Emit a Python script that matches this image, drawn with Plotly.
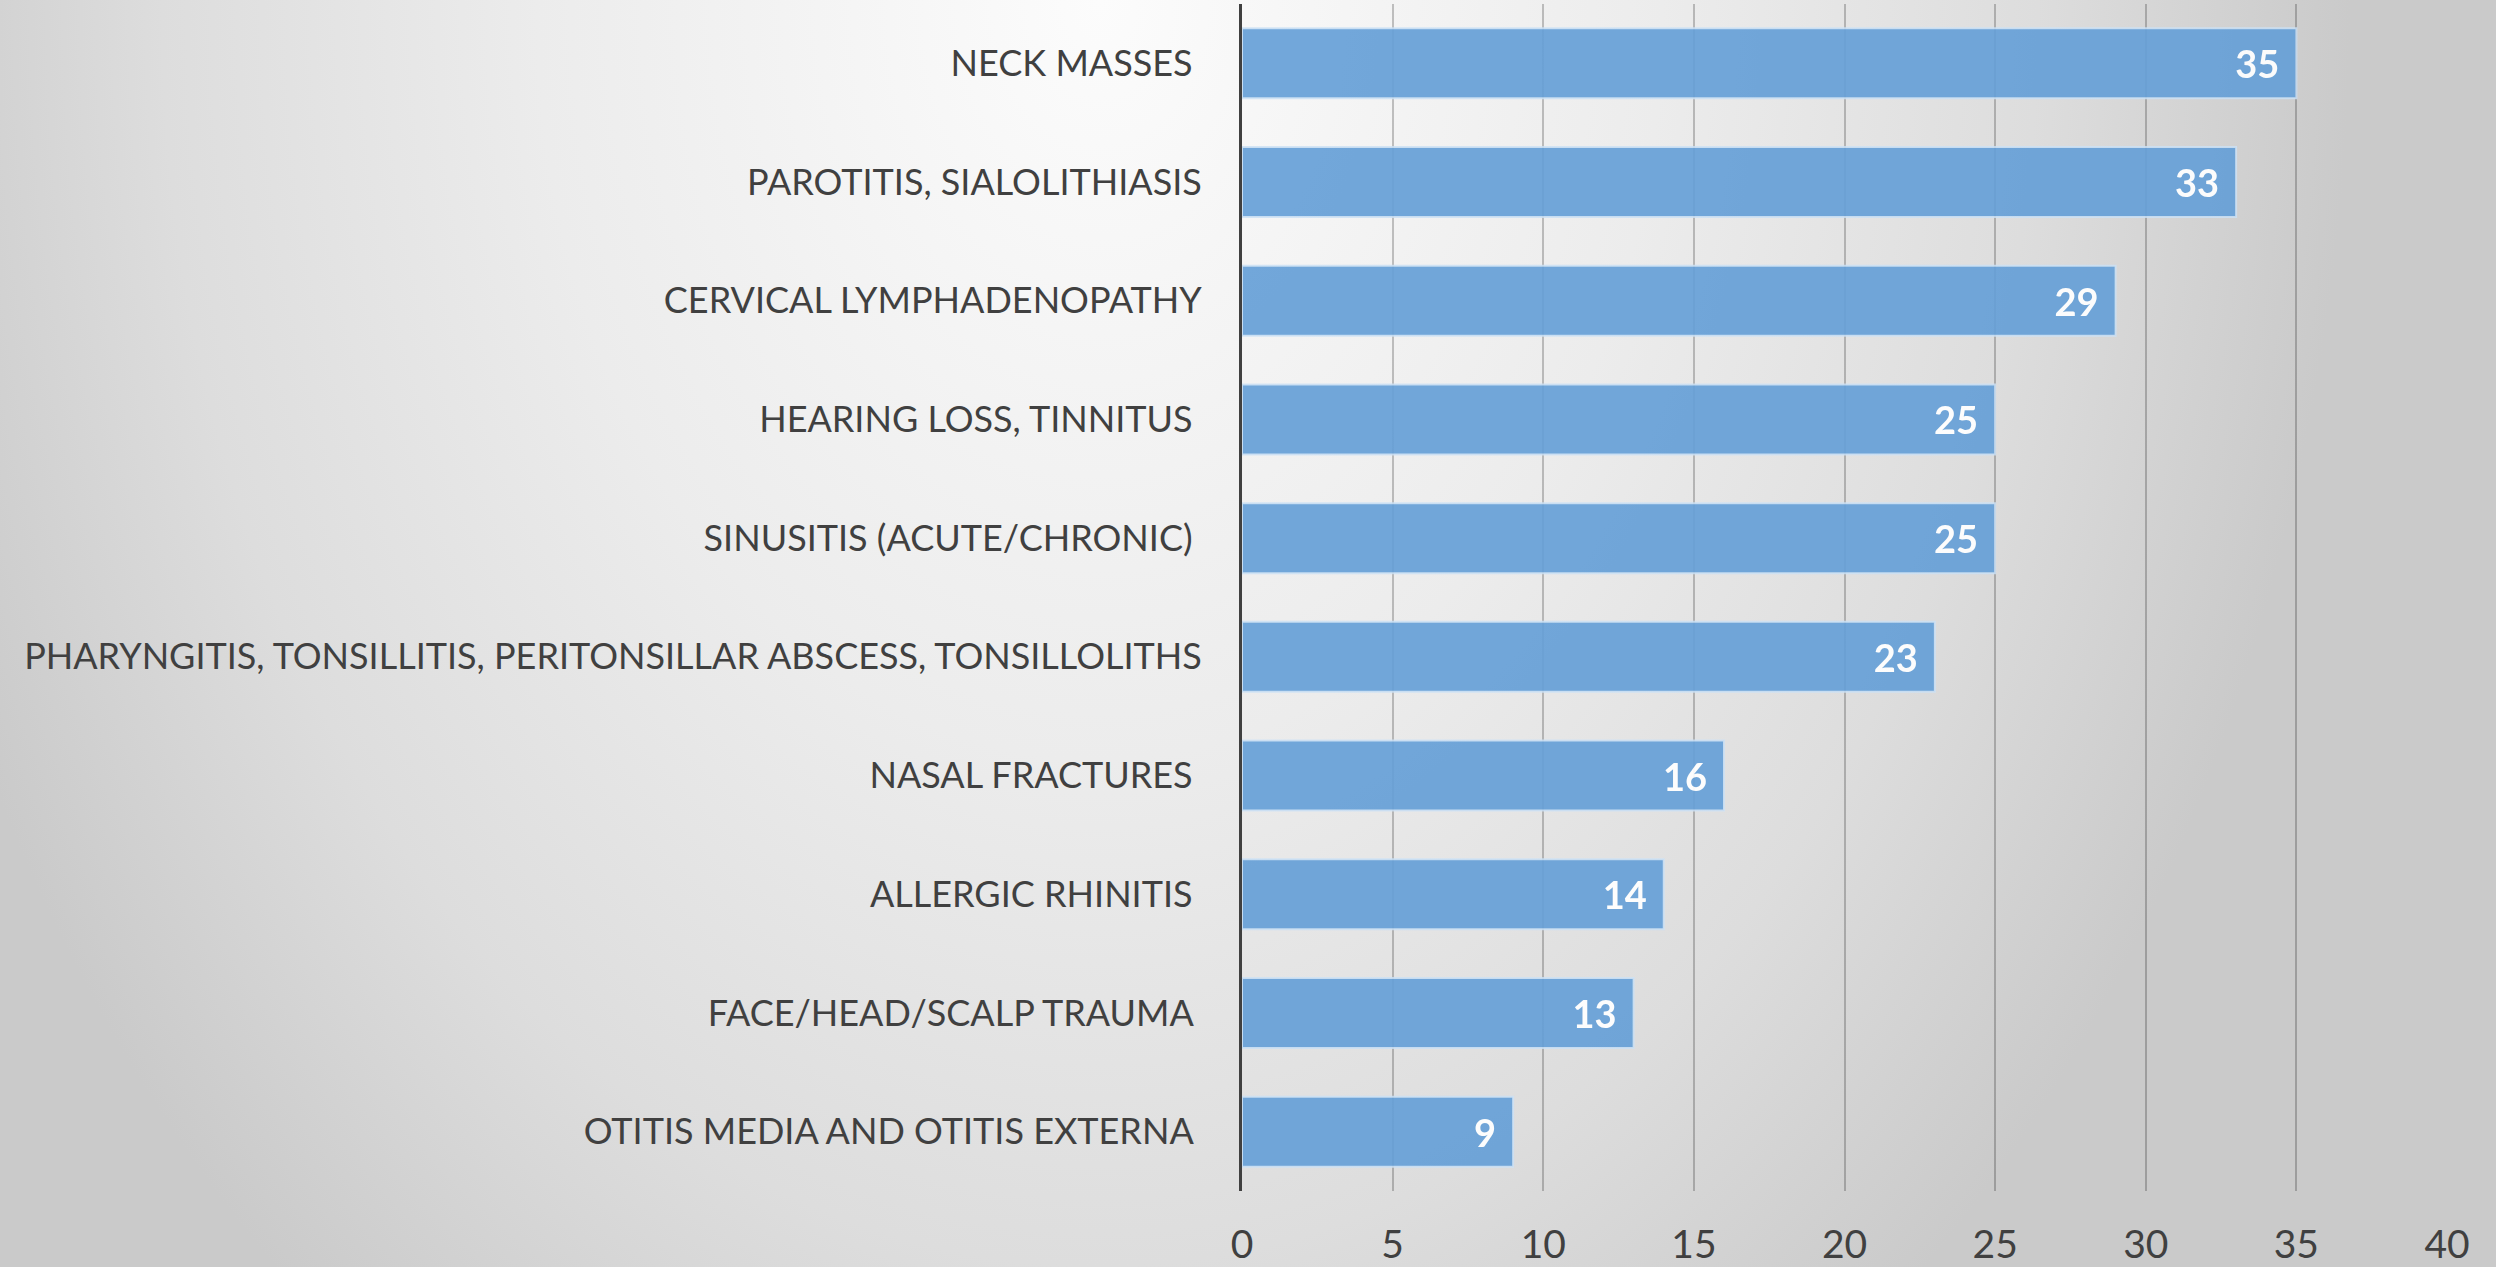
import base64
import plotly.graph_objects as go

# categories top to bottom, as they appear in the chart
conditions = [
    "NECK MASSES\u00a0",
    "PAROTITIS, SIALOLITHIASIS",
    "CERVICAL LYMPHADENOPATHY",
    "HEARING LOSS, TINNITUS\u00a0",
    "SINUSITIS (ACUTE/CHRONIC)\u00a0",
    "PHARYNGITIS, TONSILLITIS, PERITONSILLAR ABSCESS, TONSILLOLITHS",
    "NASAL FRACTURES\u00a0",
    "ALLERGIC RHINITIS\u00a0",
    "FACE/HEAD/SCALP TRAUMA\u00a0",
    "OTITIS MEDIA AND OTITIS EXTERNA\u00a0",
]
counts = [35, 33, 29, 25, 25, 23, 16, 14, 13, 9]
x_ticks = [0, 5, 10, 15, 20, 25, 30, 35, 40]

W, H = 2496, 1267
M_L, M_R, M_T, M_B = 1242, 49, 4, 76
FONT = "Lato, 'Open Sans', sans-serif"
TEXT_COLOR = "#404040"

# soft radial grey background, like the slide behind the chart
svg = f"""<svg xmlns='http://www.w3.org/2000/svg' width='{W}' height='{H}' preserveAspectRatio='none'>
<defs><radialGradient id='g' gradientUnits='userSpaceOnUse' cx='1100' cy='0' r='1250'
 gradientTransform='translate(1100 0) scale(1 1.35) translate(-1100 0)'>
<stop offset='0' stop-color='#fcfcfc'/>
<stop offset='0.45' stop-color='#ececec'/>
<stop offset='0.75' stop-color='#dddddd'/>
<stop offset='1' stop-color='#cacaca'/>
</radialGradient></defs>
<rect width='{W}' height='{H}' fill='url(#g)'/></svg>"""
bg_src = "data:image/svg+xml;base64," + base64.b64encode(svg.encode()).decode()

plot_w = W - M_L - M_R
plot_h = H - M_T - M_B

fig = go.Figure()
fig.add_trace(
    go.Bar(
        x=counts,
        y=conditions,
        orientation="h",
        marker=dict(
            color="rgb(102,160,215)",
            line=dict(color="rgba(205,225,245,0.9)", width=2),
        ),
        opacity=0.92,
        text=[f"{c}\u00a0\u2009" for c in counts],
        textposition="inside",
        insidetextanchor="end",
        textangle=0,
        textfont=dict(family=FONT, size=38, color="white", weight="bold"),
        hoverinfo="skip",
    )
)

fig.update_layout(
    width=W,
    height=H,
    margin=dict(l=M_L, r=M_R, t=M_T, b=M_B, autoexpand=False),
    paper_bgcolor="#d8d8d8",
    plot_bgcolor="rgba(0,0,0,0)",
    bargap=0.41,
    showlegend=False,
    font=dict(family=FONT, color=TEXT_COLOR),
    images=[
        dict(
            source=bg_src,
            xref="paper",
            yref="paper",
            x=-M_L / plot_w,
            y=1 + M_T / plot_h,
            sizex=W / plot_w,
            sizey=H / plot_h,
            sizing="stretch",
            xanchor="left",
            yanchor="top",
            layer="below",
        )
    ],
)

fig.update_xaxes(
    range=[0, 40],
    tickvals=x_ticks,
    showgrid=True,
    gridcolor="rgba(0,0,0,0.22)",
    gridwidth=2,
    zeroline=False,
    showline=False,
    ticks="",
    ticklabelstandoff=27,
    automargin=False,
    tickfont=dict(family=FONT, size=39, color=TEXT_COLOR),
)

fig.update_yaxes(
    autorange="reversed",
    showgrid=False,
    showline=True,
    linecolor="#404040",
    linewidth=3,
    ticks="",
    ticklabelstandoff=30,
    automargin=False,
    tickfont=dict(family=FONT, size=36, color=TEXT_COLOR),
)

fig.write_html(
    "out.html",
    config={"displayModeBar": False},
    post_script="document.body.style.margin='0';document.body.style.overflow='hidden';",
)
